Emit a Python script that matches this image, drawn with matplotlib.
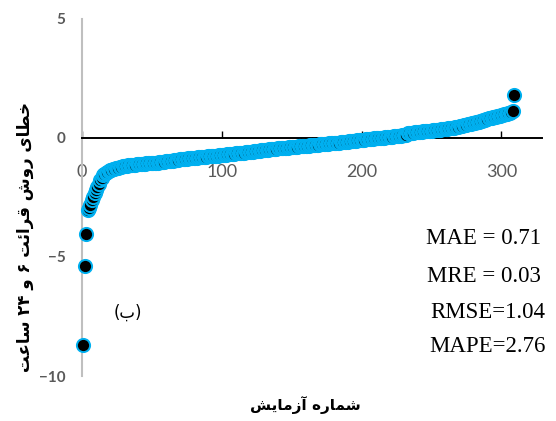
import numpy as np
import matplotlib
matplotlib.use("Agg")
import matplotlib.pyplot as plt

# sorted errors of the 6h/24h reading method, one per test
errors = [
    -8.70, -5.38, -4.03, -3.02, -2.95, -2.80, -2.62, -2.47, -2.33, -2.20,
    -2.06, -1.92, -1.78, -1.66, -1.56, -1.50, -1.45, -1.41, -1.38, -1.35,
    -1.33, -1.31, -1.29, -1.27, -1.25, -1.24, -1.22, -1.21, -1.19, -1.18,
    -1.17, -1.16, -1.15, -1.15, -1.14, -1.13, -1.12, -1.12, -1.11, -1.10,
    -1.10, -1.09, -1.09, -1.08, -1.08, -1.07, -1.07, -1.06, -1.06, -1.05,
    -1.04, -1.04, -1.03, -1.03, -1.02, -1.01, -1.01, -1.00, -0.99, -0.98,
    -0.98, -0.97, -0.96, -0.96, -0.95, -0.94, -0.93, -0.92, -0.91, -0.90,
    -0.90, -0.89, -0.88, -0.88, -0.87, -0.86, -0.86, -0.85, -0.84, -0.83,
    -0.83, -0.82, -0.81, -0.81, -0.80, -0.80, -0.79, -0.78, -0.78, -0.77,
    -0.77, -0.76, -0.76, -0.75, -0.75, -0.74, -0.74, -0.73, -0.73, -0.72,
    -0.71, -0.70, -0.70, -0.69, -0.68, -0.68, -0.67, -0.66, -0.66, -0.65,
    -0.64, -0.63, -0.63, -0.62, -0.61, -0.61, -0.60, -0.59, -0.59, -0.58,
    -0.57, -0.57, -0.56, -0.55, -0.54, -0.54, -0.53, -0.52, -0.52, -0.51,
    -0.50, -0.49, -0.49, -0.48, -0.47, -0.47, -0.46, -0.45, -0.45, -0.44,
    -0.43, -0.43, -0.42, -0.42, -0.41, -0.40, -0.40, -0.39, -0.39, -0.38,
    -0.38, -0.37, -0.37, -0.36, -0.35, -0.35, -0.34, -0.34, -0.33, -0.33,
    -0.32, -0.32, -0.31, -0.30, -0.30, -0.29, -0.29, -0.28, -0.28, -0.27,
    -0.27, -0.26, -0.25, -0.25, -0.24, -0.24, -0.23, -0.23, -0.22, -0.22,
    -0.21, -0.20, -0.20, -0.19, -0.18, -0.18, -0.17, -0.16, -0.16, -0.15,
    -0.14, -0.14, -0.13, -0.12, -0.12, -0.11, -0.10, -0.10, -0.09, -0.08,
    -0.08, -0.07, -0.06, -0.06, -0.05, -0.04, -0.04, -0.03, -0.02, -0.02,
    -0.01, 0.00, 0.00, 0.01, 0.02, 0.02, 0.03, 0.04, 0.04, 0.05,
    0.05, 0.06, 0.07, 0.07, 0.08, 0.09, 0.09, 0.10, 0.11, 0.11,
    0.12, 0.13, 0.19, 0.21, 0.22, 0.23, 0.23, 0.24, 0.25, 0.25,
    0.26, 0.27, 0.27, 0.28, 0.28, 0.29, 0.30, 0.30, 0.31, 0.31,
    0.32, 0.33, 0.33, 0.34, 0.35, 0.35, 0.36, 0.37, 0.38, 0.38,
    0.39, 0.40, 0.41, 0.42, 0.43, 0.44, 0.45, 0.46, 0.47, 0.49,
    0.50, 0.51, 0.53, 0.54, 0.55, 0.57, 0.58, 0.60, 0.61, 0.63,
    0.64, 0.66, 0.68, 0.69, 0.71, 0.73, 0.75, 0.76, 0.78, 0.80,
    0.82, 0.84, 0.85, 0.87, 0.88, 0.90, 0.91, 0.93, 0.94, 0.96,
    0.97, 0.99, 1.00, 1.02, 1.04, 1.06, 1.09, 1.13, 1.80,
]
test_no = np.arange(1, len(errors) + 1)

x_ticks = [0, 100, 200, 300]
y_ticks = [-10, -5, 0, 5]
stats = ["MAE = 0.71", "MRE = 0.03", "RMSE=1.04", "MAPE=2.76"]

y_title = "خطای روش قرائت ۶ و ۲۴ ساعت"
x_title = "شماره آزمایش"

# --- minimal Persian shaping (matplotlib has no complex text layout) ---
# letter: (isolated, final, initial, medial); 2-tuple = joins only to the right
FORMS = {
    "ا": ("\uFE8D", "\uFE8E"), "آ": ("\uFE81", "\uFE82"),
    "ر": ("\uFEAD", "\uFEAE"), "ز": ("\uFEAF", "\uFEB0"),
    "و": ("\uFEED", "\uFEEE"),
    "ب": ("\uFE8F", "\uFE90", "\uFE91", "\uFE92"),
    "ت": ("\uFE95", "\uFE96", "\uFE97", "\uFE98"),
    "خ": ("\uFEA5", "\uFEA6", "\uFEA7", "\uFEA8"),
    "س": ("\uFEB1", "\uFEB2", "\uFEB3", "\uFEB4"),
    "ش": ("\uFEB5", "\uFEB6", "\uFEB7", "\uFEB8"),
    "ط": ("\uFEC1", "\uFEC2", "\uFEC3", "\uFEC4"),
    "ع": ("\uFEC9", "\uFECA", "\uFECB", "\uFECC"),
    "ق": ("\uFED5", "\uFED6", "\uFED7", "\uFED8"),
    "م": ("\uFEE1", "\uFEE2", "\uFEE3", "\uFEE4"),
    "ه": ("\uFEE9", "\uFEEA", "\uFEEB", "\uFEEC"),
    "ئ": ("\uFE89", "\uFE8A", "\uFE8B", "\uFE8C"),
    "ی": ("\uFBFC", "\uFBFD", "\uFBFE", "\uFBFF"),
}
DIGITS = "۰۱۲۳۴۵۶۷۸۹"


def persian(text):
    out = []
    for i, ch in enumerate(text):
        f = FORMS.get(ch)
        if f is None:
            out.append(ch)
            continue
        prev = text[i - 1] if i > 0 else ""
        nxt = text[i + 1] if i + 1 < len(text) else ""
        join_prev = prev in FORMS and len(FORMS[prev]) == 4
        join_next = len(f) == 4 and nxt in FORMS
        if join_prev and join_next:
            out.append(f[3])
        elif join_prev:
            out.append(f[1])
        elif join_next:
            out.append(f[2])
        else:
            out.append(f[0])
    vis = "".join(reversed(out))
    # numbers keep left-to-right order
    res, run = [], ""
    for ch in vis:
        if ch in DIGITS:
            run += ch
        else:
            res.append(run[::-1])
            run = ""
            res.append(ch)
    res.append(run[::-1])
    return "".join(res)


fig = plt.figure(figsize=(5.56, 4.21), dpi=100)
ax = fig.add_axes([82 / 556, 1 - 376 / 421, 460 / 556, 357 / 421])

ax.plot(test_no, errors, linestyle="none", marker="o", markersize=9.5,
        markerfacecolor="black", markeredgecolor="#00B0F0",
        markeredgewidth=1.4, clip_on=False, zorder=3)

ax.set_xlim(0, 329)
ax.set_ylim(-10, 5)

for s in ["top", "right"]:
    ax.spines[s].set_visible(False)
ax.spines["bottom"].set_position(("data", 0))
ax.spines["bottom"].set_color("black")
ax.spines["bottom"].set_linewidth(1.4)
ax.spines["left"].set_color("#BFBFBF")
ax.spines["left"].set_linewidth(1.5)

ax.set_xticks(x_ticks)
ax.set_yticks(y_ticks)
ax.tick_params(axis="x", direction="in", length=5, width=1, color="black",
               pad=19, labelsize=13, labelcolor="#595959")
ax.tick_params(axis="y", length=0, pad=12, labelsize=11, labelcolor="#595959")
for lab in ax.get_xticklabels():
    lab.set_fontfamily("Lato")
for lab in ax.get_yticklabels():
    lab.set_fontfamily("Lato")
    lab.set_fontweight("bold")

fig.text(25 / 556, 1 - 237 / 421, persian(y_title), rotation=90,
         ha="center", va="center", fontsize=12, fontweight="bold",
         family=["DejaVu Sans"])
fig.text(305 / 556, 1 - 405 / 421, persian(x_title), ha="center",
         va="center", fontsize=11, fontweight="bold", family=["DejaVu Sans"])
fig.text(128 / 556, 1 - 313 / 421, "(" + persian("ب") + ")", ha="center",
         va="center", fontsize=12, family=["DejaVu Sans"])

stat_y = [239, 276, 312, 347]
stat_x = [484, 484, 488, 487]
for txt, sx, sy in zip(stats, stat_x, stat_y):
    fig.text(sx / 556, 1 - sy / 421, txt, ha="center", va="center",
             fontsize=16.5, family="Liberation Serif", color="black")

fig.savefig("out.png", dpi=100)
